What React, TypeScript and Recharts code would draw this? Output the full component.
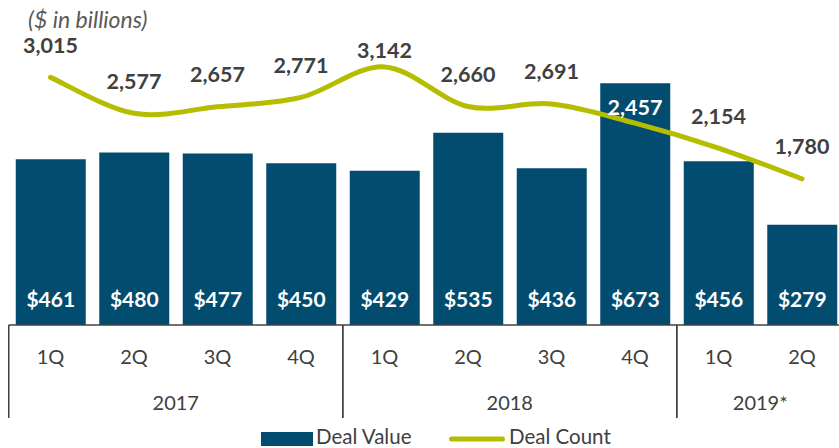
import React from 'react';
import { ComposedChart, Bar, Line, XAxis, YAxis, LabelList, Legend } from 'recharts';

// ---- data ----
const quarters = ['1Q', '2Q', '3Q', '4Q', '1Q', '2Q', '3Q', '4Q', '1Q', '2Q'];
const years = ['2017', '2017', '2017', '2017', '2018', '2018', '2018', '2018', '2019*', '2019*'];
const dealValue = [461, 480, 477, 450, 429, 535, 436, 673, 456, 279];
const dealCount = [3015, 2577, 2657, 2771, 3142, 2660, 2691, 2457, 2154, 1780];

const data = quarters.map((q, i) => ({
  idx: i,
  quarter: q,
  year: years[i],
  value: dealValue[i],
  count: dealCount[i],
}));

// ---- styles / layout ----
const FONT = 'Lato, "Open Sans", sans-serif';
const BAR_COLOR = '#024C70';
const LINE_COLOR = '#B5BD00';
const TEXT_COLOR = '#404040';
const CHART_W = 845;
const CHART_H = 448;
const MARGIN = { top: 37.5, right: 1.25, left: 8.75, bottom: 0 };
const BAND = (CHART_W - MARGIN.left - MARGIN.right) / quarters.length;

// Excel-like smooth line (uniform Catmull-Rom as cubic Bezier)
const excelSmooth = (ctx: any) => {
  let pts: number[][] = [];
  return {
    areaStart() {},
    areaEnd() {},
    lineStart() {
      pts = [];
    },
    point(x: number, y: number) {
      pts.push([+x, +y]);
    },
    lineEnd() {
      if (!pts.length) return;
      ctx.moveTo(pts[0][0], pts[0][1]);
      for (let i = 0; i < pts.length - 1; i++) {
        const p0 = pts[i - 1] || pts[i];
        const p1 = pts[i];
        const p2 = pts[i + 1];
        const p3 = pts[i + 2] || pts[i + 1];
        ctx.bezierCurveTo(
          p1[0] + (p2[0] - p0[0]) / 6,
          p1[1] + (p2[1] - p0[1]) / 6,
          p2[0] - (p3[0] - p1[0]) / 6,
          p2[1] - (p3[1] - p1[1]) / 6,
          p2[0],
          p2[1]
        );
      }
    },
  };
};

const AxisTick = (props: any) => {
  const { x, y, payload } = props;
  const i = Number(payload.value);
  const isGroupStart = i === 0 || years[i] !== years[i - 1];
  let groupEls: React.ReactNode = null;
  if (isGroupStart) {
    let n = 0;
    while (i + n < years.length && years[i + n] === years[i]) n++;
    const left = x - BAND / 2;
    groupEls = (
      <g>
        <line x1={left} x2={left} y1={y} y2={y + 93} stroke={TEXT_COLOR} strokeWidth={1.5} />
        <line x1={left + n * BAND} x2={left + n * BAND} y1={y} y2={y + 93} stroke={TEXT_COLOR} strokeWidth={1.5} />
        <text
          x={left + (n * BAND) / 2}
          y={y + 85}
          textAnchor="middle"
          fontFamily={FONT}
          fontSize={20}
          fill={TEXT_COLOR}
        >
          {years[i]}
        </text>
      </g>
    );
  }
  return (
    <g>
      {groupEls}
      <text x={x} y={y + 39} textAnchor="middle" fontFamily={FONT} fontSize={20} fill={TEXT_COLOR}>
        {quarters[i]}
      </text>
    </g>
  );
};

const BarLabel = (props: any) => {
  const { x, y, width, height, value } = props;
  return (
    <text
      x={x + width / 2}
      y={y + height - 18}
      textAnchor="middle"
      fontFamily={FONT}
      fontWeight={700}
      fontSize={21}
      fill="#FFFFFF"
    >
      {'$' + value}
    </text>
  );
};

const LineLabel = (props: any) => {
  const { x, y, value, index } = props;
  const insideBar = dealValue[index] * 3500 / 800 > dealCount[index];
  const nearPeak = index === 4;
  const lift = insideBar || nearPeak ? 16 : 32;
  return (
    <text
      x={x}
      y={y - lift + 7.5}
      textAnchor="middle"
      fontFamily={FONT}
      fontWeight={700}
      fontSize={21.5}
      fill={insideBar ? '#FFFFFF' : TEXT_COLOR}
    >
      {Number(value).toLocaleString('en-US')}
    </text>
  );
};

const LegendContent = () => (
  <svg width={839} height={24} style={{ display: 'block', overflow: 'visible' }}>
    <rect x={261} y={8} width={52} height={14} fill={BAR_COLOR} />
    <text x={316} y={19.5} fontFamily={FONT} fontSize={20.5} fill={TEXT_COLOR}>
      Deal Value
    </text>
    <line x1={451.5} x2={502.5} y1={15} y2={15} stroke={LINE_COLOR} strokeWidth={5} strokeLinecap="round" />
    <text x={509} y={19.5} fontFamily={FONT} fontSize={20.5} fill={TEXT_COLOR}>
      Deal Count
    </text>
  </svg>
);

export default function App() {
  return (
    <div
      style={{
        position: 'absolute',
        left: 0,
        top: 0,
        width: 839,
        height: 448,
        overflow: 'hidden',
        background: '#FFFFFF',
      }}
    >
      <ComposedChart width={CHART_W} height={CHART_H} data={data} margin={MARGIN}>
        <XAxis
          dataKey="idx"
          xAxisId={0}
          height={99}
          tickLine={false}
          tickSize={0}
          tickMargin={0}
          interval={0}
          axisLine={{ stroke: TEXT_COLOR, strokeWidth: 1.5 }}
          tick={<AxisTick />}
        />
        <YAxis yAxisId="left" hide domain={[0, 800]} />
        <YAxis yAxisId="right" orientation="right" hide domain={[0, 3500]} />
        <Legend
          verticalAlign="bottom"
          height={24}
          wrapperStyle={{ left: 0, top: 424, width: 839, height: 24 }}
          content={<LegendContent />}
        />
        <Bar dataKey="value" yAxisId="left" fill={BAR_COLOR} barSize={70} isAnimationActive={false}>
          <LabelList dataKey="value" content={<BarLabel />} />
        </Bar>
        <Line
          dataKey="count"
          yAxisId="right"
          type={excelSmooth as any}
          stroke={LINE_COLOR}
          strokeWidth={5}
          strokeLinecap="round"
          dot={false}
          activeDot={false}
          isAnimationActive={false}
        >
          <LabelList dataKey="count" content={<LineLabel />} />
        </Line>
      </ComposedChart>
      <div
        style={{
          position: 'absolute',
          left: 28,
          top: 6,
          fontFamily: FONT,
          fontStyle: 'italic',
          fontSize: 23,
          color: '#595959',
          whiteSpace: 'nowrap',
          lineHeight: '26px',
        }}
      >
        ($ in billions)
      </div>
    </div>
  );
}
